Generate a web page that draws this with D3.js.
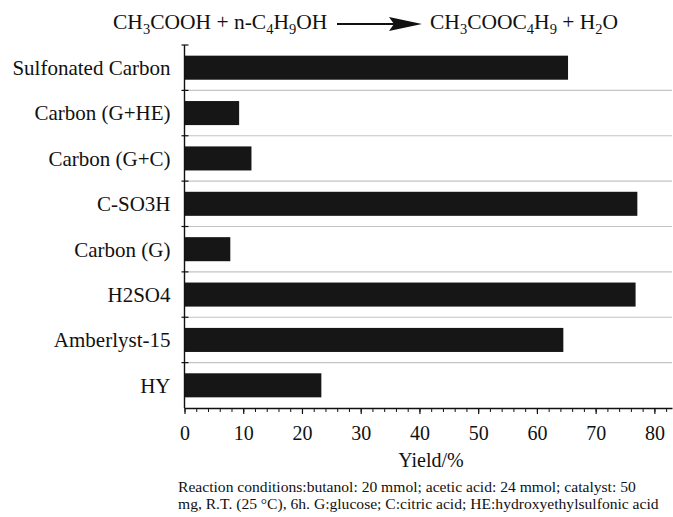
<!DOCTYPE html>
<html>
<head>
<meta charset="utf-8">
<script src="https://cdn.jsdelivr.net/npm/d3@7"></script>
<style>
	body { margin: 0; background: #fff; }
	svg { display: block; }
	svg text { font-family: 'Liberation Serif', serif; }
</style>
</head>
<body>
<div id="chart"></div>
<script>
const categories = ['Sulfonated Carbon', 'Carbon (G+HE)', 'Carbon (G+C)', 'C-SO3H', 'Carbon (G)', 'H2SO4', 'Amberlyst-15', 'HY'];
const yields = [65.3, 9.3, 11.4, 77.1, 7.8, 76.8, 64.5, 23.3];
const xTicks = [0, 10, 20, 30, 40, 50, 60, 70, 80];
const xLabel = 'Yield/%';
const notes = [
	'Reaction conditions:butanol: 20 mmol; acetic acid: 24 mmol; catalyst: 50',
	'mg, R.T. (25 °C), 6h. G:glucose; C:citric acid; HE:hydroxyethylsulfonic acid',
];

const width = 673;
const height = 517;
const margin = { top: 45, right: 1, bottom: 109, left: 184.5 };

const data = categories.map((c, i) => ({ name: c, value: yields[i] }));

const svg = d3.select('#chart').append('svg')
	.attr('width', width)
	.attr('height', height);

const xScale = d3.scaleLinear()
	.domain([0, 83])
	.range([margin.left, width - margin.right]);

const yScale = d3.scaleBand()
	.domain(categories)
	.range([margin.top, height - margin.bottom])
	.paddingInner(0.47)
	.paddingOuter(0.235);

const step = yScale.step();
const edge = (d) => yScale(d) - step * 0.235;

// gridlines between categories
svg.append('g')
	.selectAll('line')
	.data(categories.slice(1))
	.join('line')
	.attr('x1', xScale(0))
	.attr('x2', xScale(83))
	.attr('y1', (d) => edge(d))
	.attr('y2', (d) => edge(d))
	.attr('stroke', '#c4c4c4')
	.attr('stroke-width', 1.2);

// bars
svg.append('g')
	.selectAll('rect')
	.data(data)
	.join('rect')
	.attr('x', xScale(0))
	.attr('y', (d) => yScale(d.name))
	.attr('width', (d) => xScale(d.value) - xScale(0))
	.attr('height', yScale.bandwidth())
	.attr('fill', '#161616');

// x axis: minor and major ticks
const axisY = height - margin.bottom;
svg.append('g')
	.attr('transform', `translate(0,${axisY})`)
	.call(d3.axisBottom(xScale).tickValues(d3.range(0, 83, 2)).tickSize(4).tickFormat(''))
	.call((g) => g.select('.domain').remove())
	.call((g) => g.selectAll('line').attr('stroke', '#111').attr('stroke-width', 1));

const xAxis = svg.append('g')
	.attr('transform', `translate(0,${axisY})`)
	.call(d3.axisBottom(xScale).tickValues(xTicks).tickSize(6).tickSizeOuter(0).tickPadding(12));
xAxis.attr('font-family', null).attr('font-size', null);
xAxis.select('.domain').attr('stroke', '#111').attr('stroke-width', 1.4);
xAxis.selectAll('line').attr('stroke', '#111').attr('stroke-width', 1.2);
xAxis.selectAll('text')
	.attr('font-size', 20)
	.attr('fill', '#111');

// y axis
const yAxis = svg.append('g');
yAxis.append('line')
	.attr('x1', xScale(0)).attr('x2', xScale(0))
	.attr('y1', margin.top).attr('y2', axisY)
	.attr('stroke', '#111')
	.attr('stroke-width', 1.4);
yAxis.selectAll('.tick')
	.data(categories)
	.join('line')
	.attr('class', 'tick')
	.attr('x1', xScale(0) - 3)
	.attr('x2', xScale(0) + 4)
	.attr('y1', (d) => edge(d))
	.attr('y2', (d) => edge(d))
	.attr('stroke', '#111')
	.attr('stroke-width', 1.2);
yAxis.selectAll('.label')
	.data(categories)
	.join('text')
	.attr('class', 'label')
	.attr('x', xScale(0) - 14)
	.attr('y', (d) => yScale(d) + yScale.bandwidth() / 2)
	.attr('dy', '0.35em')
	.attr('text-anchor', 'end')
	.attr('font-size', 21)
	.attr('fill', '#111')
	.text((d) => d);

// axis title
svg.append('text')
	.attr('x', 431)
	.attr('y', 467)
	.attr('text-anchor', 'middle')
	.attr('font-size', 20)
	.attr('fill', '#111')
	.text(xLabel);

// footnote
svg.append('g')
	.selectAll('text')
	.data(notes)
	.join('text')
	.attr('x', 178)
	.attr('y', (d, i) => 492 + i * 17)
	.attr('font-size', 15.6)
	.attr('fill', '#111')
	.text((d) => d);

// reaction equation
const eq = svg.append('g').attr('fill', '#111');
const addParts = (el, parts) => {
	let prev = false;
	parts.forEach(([t, sub]) => {
		el.append('tspan')
			.attr('font-size', sub ? 14.5 : 21.5)
			.attr('dy', (sub ? 4.5 : 0) - (prev ? 4.5 : 0))
			.text(t);
		prev = !!sub;
	});
};
const left = eq.append('text').attr('x', 113).attr('y', 29);
addParts(left, [['CH'], ['3', 1], ['COOH + n-C'], ['4', 1], ['H'], ['9', 1], ['OH']]);
const right = eq.append('text').attr('x', 430).attr('y', 29);
addParts(right, [['CH'], ['3', 1], ['COOC'], ['4', 1], ['H'], ['9', 1], [' + H'], ['2', 1], ['O']]);

eq.append('line')
	.attr('x1', 337).attr('x2', 396)
	.attr('y1', 24).attr('y2', 24)
	.attr('stroke', '#111')
	.attr('stroke-width', 1.8);
eq.append('path')
	.attr('d', 'M389,17 L422,24 L389,31 L394,24 Z')
	.attr('fill', '#111');
</script>
</body>
</html>
